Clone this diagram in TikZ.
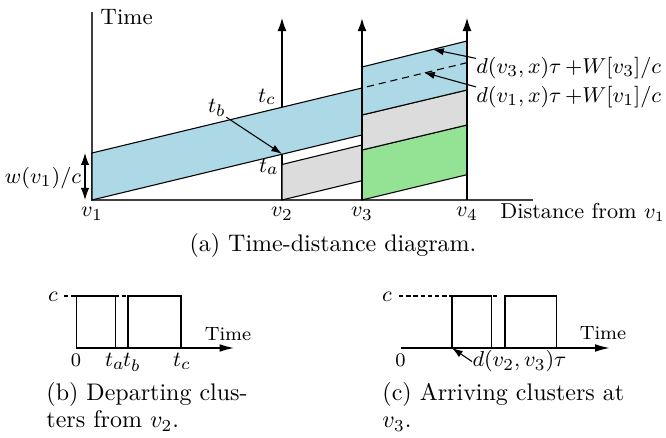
\documentclass[tikz,border=0pt]{standalone}
\usepackage{amsmath,amssymb}
\usetikzlibrary{arrows.meta}
\definecolor{bandblue}{RGB}{173,216,230}
\definecolor{bandgrey}{RGB}{220,220,220}
\definecolor{bandgreen}{RGB}{148,226,148}
\tikzset{
  lbl/.style={inner sep=0pt,font=\fontsize{9.3}{11}\selectfont},
  sublbl/.style={inner sep=0pt,font=\fontsize{9.5}{11}\selectfont},
  tinylbl/.style={inner sep=0pt,font=\fontsize{8}{9}\selectfont},
  capt/.style={inner sep=0pt,font=\fontsize{10}{12}\selectfont},
  band/.style={draw=black,line width=.45pt},
  upaxis/.style={line width=.5pt,-{Latex[length=5.5pt,width=3.8pt]}},
  ptr/.style={line width=.45pt,-{Latex[length=4.5pt,width=3pt]}},
  timeaxis/.style={line width=.5pt,-{Latex[length=6pt,width=3.2pt]}},
  clusterbox/.style={draw=black,line width=.45pt},
  caplevel/.style={line width=.45pt,dash pattern=on 1.8pt off 1.2pt}
}
\begin{document}
\begin{tikzpicture}[x=.4167pt,y=.4167pt]
\path[use as bounding box] (0,0) rectangle (666,438);

% (a) time-distance diagram
\draw[black!75,line width=.55pt] (92,426) -- (92,238) -- (533,238);
\draw[upaxis] (282,238) -- (282,420);
\filldraw[band,fill=bandblue] (92,238)--(362,303)--(362,350)--(92,285)--cycle;
\filldraw[band,fill=bandgrey] (282,238)--(362,257.3)--(362,293)--(282,273.5)--cycle;
\filldraw[band,fill=bandgreen] (362,238)--(467,263.3)--(467,313)--(362,288)--cycle;
\filldraw[band,fill=bandgrey] (362,288)--(467,313)--(467,348)--(362,323)--cycle;
\filldraw[band,fill=bandblue] (362,323)--(467,348)--(467,397)--(362,371)--cycle;
\draw[line width=.45pt,dash pattern=on 3pt off 2pt] (367,351.2) -- (467,375.3);
\draw[upaxis,line width=.9pt] (362,238) -- (362,420);
\draw[upaxis] (467,238) -- (467,420);

\node[lbl,anchor=base west] (timelab) at (100,413) {Time};
\node[lbl,anchor=base west,font=\fontsize{9}{11}\selectfont] (distlab) at (500,219) {Distance from $v_1$};
\foreach \x/\n in {92/1,282/2,362/3,467/4}
  \node[lbl,anchor=base] (v\n) at (\x,221) {$v_\n$};

\coordinate (wlo) at (85,238);
\coordinate (whi) at (85,285);
\draw[line width=.45pt,{Latex[length=5pt,width=3.5pt]}-{Latex[length=5pt,width=3.5pt]}] (wlo) -- (whi);
\node[lbl] (wlab) at (43,260) {$w(v_1)/c$};

\coordinate (pa) at (282,284);
\node[sublbl] (tb) at (217,330) {$t_b$};
\node[sublbl] (tc) at (267,341) {$t_c$};
\node[sublbl] (ta) at (269,271) {$t_a$};
\draw[ptr] (tb.south east) -- (pa);

\coordinate (onblue) at (433,388.5);
\coordinate (ondash) at (424,365.5);
\node[lbl,anchor=west] (dthree) at (476,370) {$d(v_3,x)\tau\,{+}W[v_3]/c$};
\node[lbl,anchor=west] (done) at (476,341) {$d(v_1,x)\tau\,{+}W[v_1]/c$};
\draw[ptr] ([yshift=-.7pt]dthree.north west) -- (onblue);
\draw[ptr] ([yshift=-.5pt]done.north west) -- (ondash);

\node[capt,anchor=base] (capa) at (333,186.5) {(a) Time-distance diagram.};

% (b) departing clusters
\coordinate (bzero) at (76.5,90);
\draw[caplevel] (64,142) -- (161,142);
\draw[clusterbox] (76.5,90) rectangle (115.5,142);
\draw[clusterbox] (128,90) rectangle (181,142);
\draw[timeaxis] (bzero) -- (234,90);
\node[sublbl] (bc) at (53,141) {$c$};
\node[tinylbl] (btime) at (228,104) {Time};
\node[tinylbl,anchor=base] (bnull) at (76,71) {0};
\node[sublbl,anchor=base] (bta) at (115,71) {$t_a$};
\node[sublbl,anchor=base] (btb) at (132,71) {$t_b$};
\node[sublbl,anchor=base] (btc) at (182,71) {$t_c$};
\node[capt,anchor=base west] (capb) at (46,37.5) {(b) Departing clus-};
\node[capt,anchor=base west] (capbb) at (46,10) {ters from $v_2$.};

% (c) arriving clusters
\coordinate (czero) at (400.5,90);
\coordinate (cfirst) at (452,90);
\draw[caplevel] (399,142) -- (497,142);
\draw[clusterbox] (cfirst) rectangle (491.5,142);
\draw[clusterbox] (505,90) rectangle (556.5,142);
\draw[timeaxis] (czero) -- (609.5,90);
\node[sublbl] (cc) at (387,141) {$c$};
\node[tinylbl] (ctime) at (603,105) {Time};
\node[tinylbl,anchor=base] (cnull) at (400.5,71) {0};
\node[sublbl,anchor=base] (cdist) at (519.5,71) {$d(v_2,v_3)\tau$};
\draw[ptr] (cdist.west) -- (cfirst);
\node[capt,anchor=base west] (capc) at (382,37.5) {(c) Arriving clusters at};
\node[capt,anchor=base west] (capcc) at (382,10) {$v_3$.};
\end{tikzpicture}
\end{document}
